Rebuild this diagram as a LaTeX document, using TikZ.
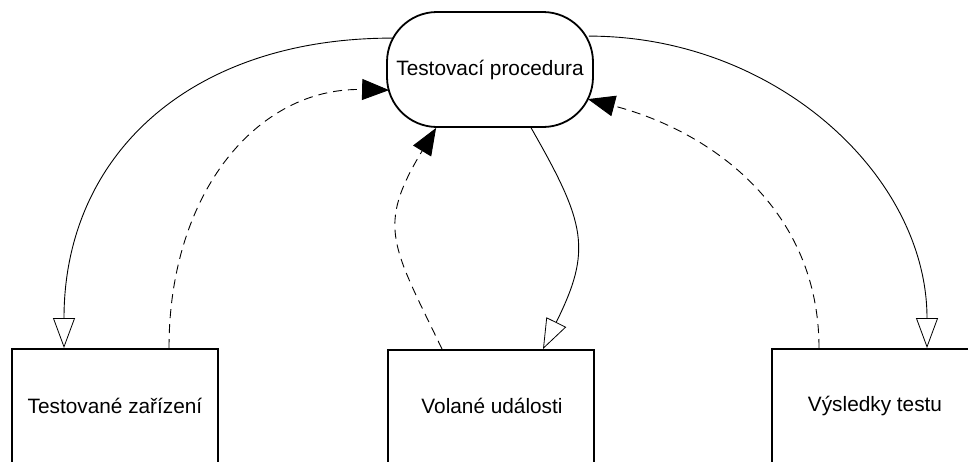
\documentclass[tikz,border=0pt]{standalone}
\usepackage{fontspec}
\setmainfont{Liberation Sans}
\usetikzlibrary{arrows.meta,calc}
\begin{document}
\begin{tikzpicture}[x=1pt,y=-1pt,
  proc/.style={draw,line width=1.8pt,rounded corners=50pt,minimum width=206pt,minimum height=115pt,inner sep=0pt,font=\fontsize{20.8}{24}\selectfont},
  boxnode/.style={draw,line width=2pt,minimum width=206pt,minimum height=115pt,inner sep=0pt,font=\fontsize{20.8}{24}\selectfont},
  flow/.style={line width=0.9pt,-{Triangle[length=30pt,width=22pt,fill=white,line width=0.8pt]}},
  back/.style={line width=0.9pt,dash pattern=on 9pt off 6pt,-{Triangle[length=27pt,width=21pt]}}]
\useasboundingbox (0,0) rectangle (968,461);
\clip (0,0) rectangle (968,461);
\node[proc] (top) at (490,69.5) {Testovací procedura};
\node[boxnode] (lbox) at (115,406.5) {};
\node[boxnode] (mbox) at (491,407.5) {};
\node[boxnode] (rbox) at (875,406.5) {};
\node[font=\fontsize{20.8}{24}\selectfont] (ltext) at (115,406) {Testované zařízení};
\node[font=\fontsize{20.8}{24}\selectfont] (mtext) at (492,406) {Volané události};
\node[font=\fontsize{20.8}{24}\selectfont] (rtext) at (875,406) {Výsledky testu};
% connectors
\draw[flow] ($(top.north west)+(6,27)$) .. controls +(-203,0) and +(0,-192) .. ($(lbox.north west)+(53,0)$);
\draw[back] ($(lbox.north west)+(158,0)$) .. controls +(0,-155) and +(-132,-3) .. ($(top.north west)+(3,79)$);
\draw[back] ($(mbox.north west)+(55,0)$) .. controls +(-50,-104) and +(-60,99) .. ($(top.south west)+(50,0)$);
\draw[flow] ($(top.south west)+(145,0)$) .. controls +(55,96) and +(49,-99) .. ($(mbox.north west)+(156,0)$);
\draw[back] ($(rbox.north west)+(48,0)$) .. controls +(0,-137) and +(126,33) .. ($(top.north east)+(-6,88)$);
\draw[flow] ($(top.north east)+(-5,25)$) .. controls +(187,0) and +(0,-172) .. ($(rbox.north west)+(156,0)$);
\end{tikzpicture}
\end{document}
